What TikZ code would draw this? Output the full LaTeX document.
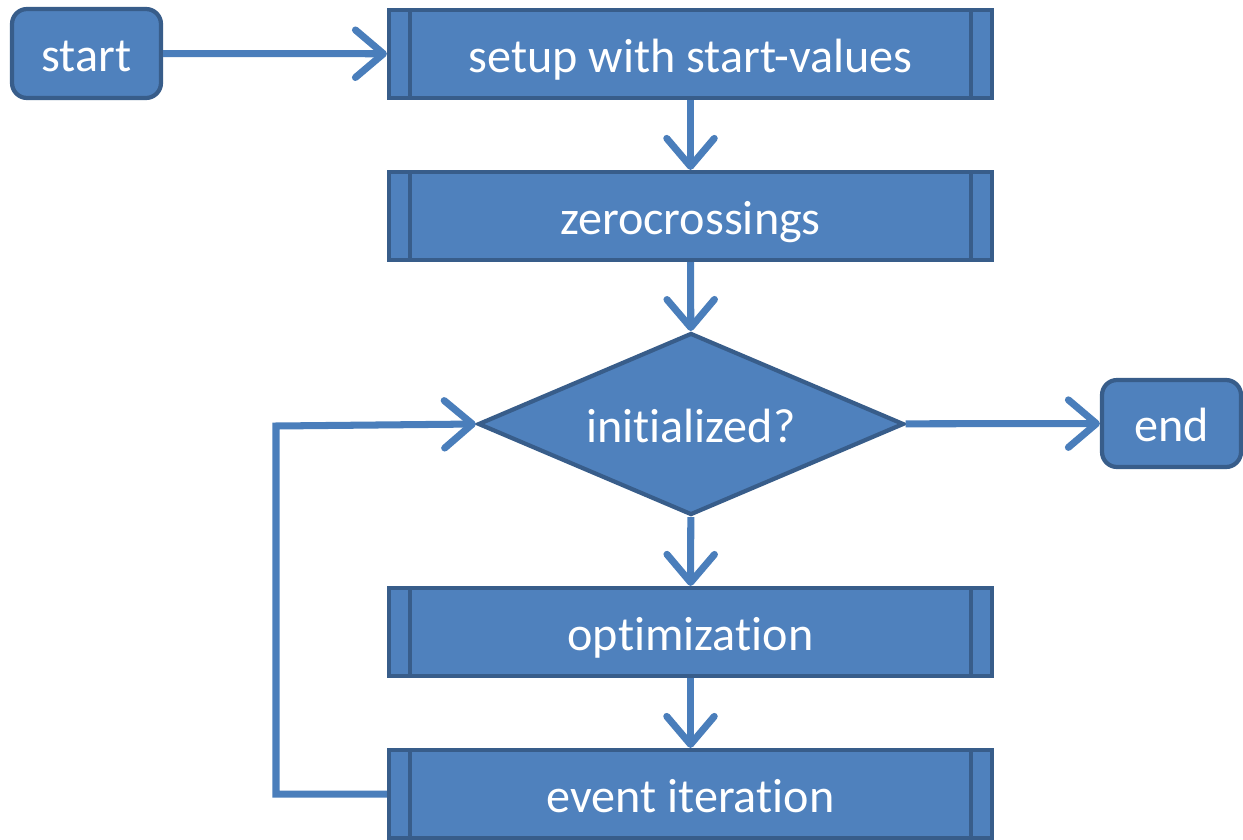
\documentclass[tikz,border=0pt]{standalone}
\usepackage{fontspec}
\setmainfont[Ligatures=NoCommon]{Carlito}
\usetikzlibrary{arrows.meta,shapes.geometric}
\definecolor{boxfill}{HTML}{4F81BD}
\definecolor{boxline}{HTML}{385D8A}
\definecolor{flow}{HTML}{4A7EBB}
\tikzset{
  base/.style={fill=boxfill, draw=boxline, line width=2.4pt, text=white,
    font=\fontsize{27.4}{32}\selectfont, inner sep=0pt,
    text height=0.72cm, text depth=0cm},
  terminal/.style={base, rounded corners=0.3cm},
  proc/.style={base, minimum width=12.06cm, minimum height=1.76cm,
    path picture={
      \draw[boxline, line width=2.4pt]
        ([xshift=0.42cm]path picture bounding box.north west) --
        ([xshift=0.42cm]path picture bounding box.south west);
      \draw[boxline, line width=2.4pt]
        ([xshift=-0.42cm]path picture bounding box.north east) --
        ([xshift=-0.42cm]path picture bounding box.south east);
    }},
  decision/.style={base, diamond, shape aspect=2.34, minimum width=8.52cm,
    minimum height=3.64cm},
  flowline/.style={draw=flow, line width=4pt,
    -{Straight Barb[length=0.56cm, width=0.95cm, line cap=round, line join=round]}},
}
\begin{document}
\begin{tikzpicture}[x=0.02cm, y=-0.02cm]
  \useasboundingbox (0,0) rectangle (1243,839);
  \node[terminal, minimum width=2.98cm, minimum height=1.78cm] (start) at (86.5,53.5) {start};
  \node[proc] (setup) at (690.5,54) {setup with start-values};
  \node[proc] (zero) at (690.5,216) {zerocrossings};
  \node[decision] (init) at (691,424) {initialized?};
  \node[terminal, minimum width=2.78cm, minimum height=1.74cm] (end) at (1171.5,423.5) {end};
  \node[proc] (opt) at (690.5,632) {optimization};
  \node[proc] (event) at (690.5,794) {event iteration};
  \coordinate (loopb) at (276,794);
  \coordinate (loopt) at (276,426);

  \draw[flowline] (start) -- (setup);
  \draw[flowline] (setup) -- (zero);
  \draw[flowline] (zero) -- (init);
  \draw[flowline] (init) -- (end);
  \draw[flowline] (init) -- (opt);
  \draw[flowline] (opt) -- (event);
  \draw[flowline] (event.west) -- (loopb) -- (loopt) -- (init.west);
\end{tikzpicture}
\end{document}
